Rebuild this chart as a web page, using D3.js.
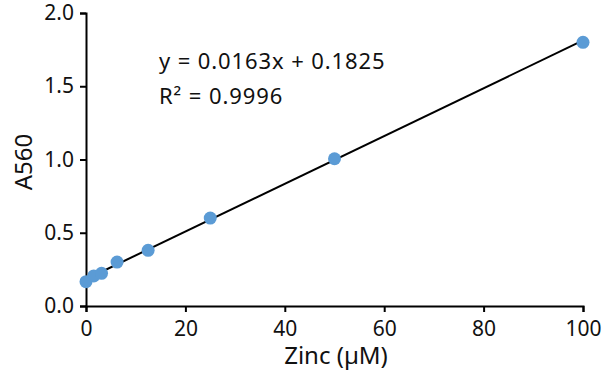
<!DOCTYPE html>
<html><head><meta charset="utf-8">
<script src="https://cdn.jsdelivr.net/npm/d3@7"></script>
<style>body{margin:0;background:#fff}svg{display:block}text{font-family:"Noto Sans",sans-serif}</style>
</head><body>
<script>
const zinc = [0, 1.5625, 3.125, 6.25, 12.5, 25, 50, 100];
const a560 = [0.166, 0.205, 0.223, 0.30, 0.38, 0.60, 1.005, 1.80];
const slope = 0.0163, intercept = 0.1825;
const xTicks = [0, 20, 40, 60, 80, 100];
const yTicks = [0, 0.5, 1.0, 1.5, 2.0];
const eqLines = ["y = 0.0163x + 0.1825", "R² = 0.9996"];

const W = 606, H = 377;
const svg = d3.select("body").append("svg").attr("width", W).attr("height", H);
const x = d3.scaleLinear().domain([0, 100]).range([86, 583]);
const y = d3.scaleLinear().domain([0, 2]).range([306, 13]);

const xAxis = svg.append("g").attr("transform", "translate(0,306)")
  .call(d3.axisBottom(x).tickValues(xTicks).tickSize(6).tickPadding(9).tickFormat(d3.format("d")));
const yAxis = svg.append("g").attr("transform", "translate(86,0)")
  .call(d3.axisLeft(y).tickValues(yTicks).tickSize(6).tickPadding(6).tickFormat(d3.format(".1f")));
[xAxis, yAxis].forEach(g => {
  g.select(".domain").attr("stroke", "#000").attr("stroke-width", 2);
  g.selectAll(".tick line").attr("stroke", "#000").attr("stroke-width", 2);
  g.selectAll(".tick text").attr("fill", "#111").style("font-size", "21px");
});

svg.append("line")
  .attr("x1", x(0)).attr("y1", y(intercept))
  .attr("x2", x(100)).attr("y2", y(intercept + slope * 100))
  .attr("stroke", "#000").attr("stroke-width", 2);

svg.append("g").selectAll("circle").data(zinc).join("circle")
  .attr("cx", d => x(d)).attr("cy", (d, i) => y(a560[i])).attr("r", 6.5)
  .attr("fill", "#5b9bd5");

svg.append("text").attr("x", 336).attr("y", 364).attr("text-anchor", "middle")
  .style("font-size", "24px").attr("fill", "#111").text("Zinc (µM)");
svg.append("text").attr("transform", "translate(32,162) rotate(-90)").attr("text-anchor", "middle")
  .style("font-size", "24px").attr("fill", "#111").text("A560");

svg.append("g").selectAll("text").data(eqLines).join("text")
  .attr("x", 159).attr("y", (d, i) => 69 + i * 35)
  .style("font-size", "22px").style("letter-spacing", "0.9px").attr("fill", "#111").text(d => d);
</script>
</body></html>
